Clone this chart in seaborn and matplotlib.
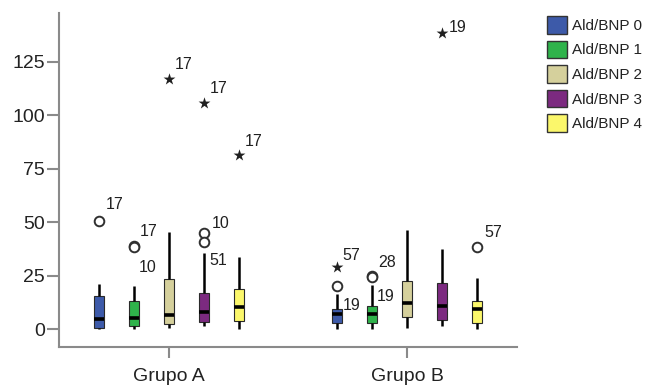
import numpy as np
import pandas as pd
import matplotlib
matplotlib.use("Agg")
import matplotlib.pyplot as plt
from matplotlib.patches import Patch
import seaborn as sns

# Categories
groups = ["Grupo A", "Grupo B"]
levels = ["Ald/BNP 0", "Ald/BNP 1", "Ald/BNP 2", "Ald/BNP 3", "Ald/BNP 4"]

# Five-number summaries per level (lower whisker, Q1, median, Q3, upper whisker)
a_low = [0.0, 0.0, 0.7, 1.5, 0.0]
a_q1 = [0.5, 1.5, 2.3, 3.6, 4.0]
a_med = [4.7, 5.1, 6.5, 8.1, 10.3]
a_q3 = [15.6, 13.2, 23.4, 17.1, 19.0]
a_high = [21.0, 20.2, 45.3, 35.5, 33.9]

b_low = [0.0, 0.0, 0.5, 1.5, 0.0]
b_q1 = [3.1, 2.8, 5.9, 4.3, 2.8]
b_med = [7.0, 7.0, 12.4, 11.0, 9.3]
b_q3 = [9.3, 10.9, 22.6, 21.5, 13.4]
b_high = [16.5, 20.7, 46.4, 37.4, 24.1]

# Outliers (o = mild, * = extreme) with case labels
out_group = ["Grupo A"] * 8 + ["Grupo B"] * 6
out_level = ["Ald/BNP 0", "Ald/BNP 1", "Ald/BNP 1", "Ald/BNP 2", "Ald/BNP 3",
             "Ald/BNP 3", "Ald/BNP 3", "Ald/BNP 4",
             "Ald/BNP 0", "Ald/BNP 0", "Ald/BNP 1", "Ald/BNP 1", "Ald/BNP 3",
             "Ald/BNP 4"]
out_value = [50.7, 38.9, 38.4, 117.0, 44.9, 40.9, 105.9, 81.3,
             20.2, 29.0, 24.9, 24.4, 138.3, 38.3]
out_kind = ["o", "o", "o", "*", "o", "o", "*", "*",
            "o", "*", "o", "o", "*", "o"]
out_case = ["17", "17", "10", "17", "10", "51", "17", "17",
            "19", "57", "28", "19", "19", "57"]

y_ticks = [0, 25, 50, 75, 100, 125]

# Label placement next to each outlier (pixel offsets of the text baseline)
label_offsets = [(7, 12), (6, 10.5), (5, -24.5), (6, 9.5), (8, 5.5), (5, -23.5),
                 (6, 9.5), (6, 9.5), (5.5, -23.5), (5, 7.5), (6.5, 8.5),
                 (5, -23.5), (6.5, 1.5), (7, 10.5)]

palette = ["#3d5aa9", "#2fb34b", "#d5d09c", "#7c2a80", "#fbf76b"]

rows = []
for g, stats in zip(groups, [(a_low, a_q1, a_med, a_q3, a_high),
                             (b_low, b_q1, b_med, b_q3, b_high)]):
    for li, lev in enumerate(levels):
        for arr in stats:
            rows.append({"grupo": g, "nivel": lev, "valor": arr[li]})
df = pd.DataFrame(rows)

sns.set_theme(style="white")
plt.rcParams["font.family"] = ["Liberation Sans", "DejaVu Sans"]

fig, ax = plt.subplots(figsize=(6.51, 3.88), dpi=100)
fig.subplots_adjust(left=59 / 651, right=517 / 651,
                    bottom=1 - 347 / 388, top=1 - 13 / 388)

BOX_W = 0.735
sns.boxplot(data=df, x="grupo", y="valor", hue="nivel",
            order=groups, hue_order=levels, palette=palette, saturation=1,
            width=BOX_W, gap=0.74, whis=np.inf, showcaps=False,
            linecolor="#2a2a2a", linewidth=0.8,
            whiskerprops=dict(color="black", linewidth=1.8),
            medianprops=dict(color="black", linewidth=2.6),
            legend=False, ax=ax)

step = BOX_W / len(levels)
for g, lev, v, k, c, (dx, dy) in zip(out_group, out_level, out_value,
                                       out_kind, out_case, label_offsets):
    x = groups.index(g) + (levels.index(lev) - (len(levels) - 1) / 2) * step
    if k == "o":
        ax.scatter([x], [v], s=48, facecolor="white", edgecolor="#303030",
                   linewidth=1.4, zorder=4)
    else:
        ax.scatter([x], [v], s=80, marker="*", color="#202020",
                   linewidth=0, zorder=4)
    ax.annotate(c, (x, v), xytext=(dx, dy), textcoords="offset pixels",
                ha="left", va="baseline", fontsize=11.5, color="#202020")

ax.set_xlim(-0.462, 1.462)
ax.set_ylim(-8.3, 147.8)
ax.set_yticks(y_ticks)
ax.set_xlabel("")
ax.set_ylabel("")

for side in ["top", "right"]:
    ax.spines[side].set_visible(False)
for side in ["left", "bottom"]:
    ax.spines[side].set_color("#8a8a8a")
    ax.spines[side].set_linewidth(1.5)

ax.tick_params(axis="y", length=9, width=1.5, color="#8a8a8a", pad=1,
               labelsize=14, labelcolor="#222222", left=True)
ax.tick_params(axis="x", length=8, width=1.5, color="#8a8a8a", pad=7,
               labelsize=14, labelcolor="#222222", bottom=True)

handles = [Patch(facecolor=col, edgecolor="#333333", linewidth=1.0, label=lev)
           for col, lev in zip(palette, levels)]
fig.legend(handles=handles, loc="upper left",
           bbox_to_anchor=(547 / 651, 1 - 16 / 388), frameon=False,
           fontsize=11, handlelength=1.3, handleheight=1.39,
           handletextpad=0.35, labelspacing=0.46, borderpad=0,
           borderaxespad=0, labelcolor="#222222")

fig.savefig("out.png", dpi=100)
